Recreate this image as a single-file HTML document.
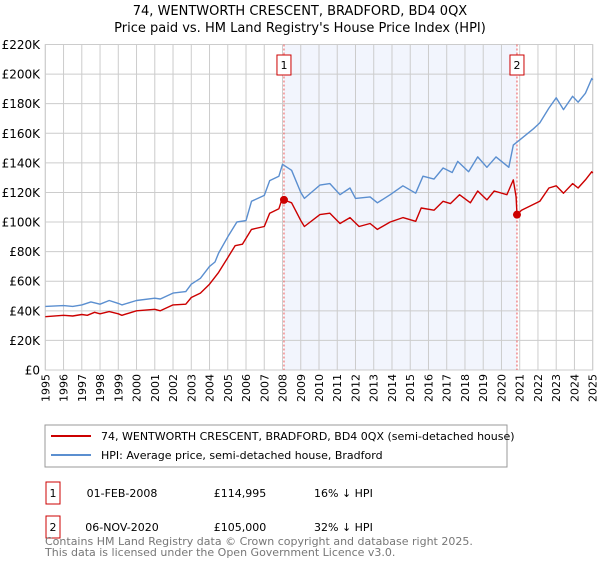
<!DOCTYPE html>
<html><head><meta charset="utf-8"><style>
body{margin:0;background:#fff;font-family:"Liberation Sans","DejaVu Sans",sans-serif;}
svg text{font-family:"DejaVu Sans","Liberation Sans",sans-serif;}
</style></head><body>
<svg id="chart" width="600" height="560" viewBox="0 0 600 560" xmlns="http://www.w3.org/2000/svg">
<text x="300" y="15" text-anchor="middle" font-size="13">74, WENTWORTH CRESCENT, BRADFORD, BD4 0QX</text>
<text x="300" y="32" text-anchor="middle" font-size="13">Price paid vs. HM Land Registry's House Price Index (HPI)</text>
<g id="plot"></g>
<rect x="45" y="425" width="462" height="42" fill="#fff" stroke="#999"/>
<line x1="51" y1="436" x2="91" y2="436" stroke="#cc0000" stroke-width="2"/>
<text x="101" y="440" font-size="11">74, WENTWORTH CRESCENT, BRADFORD, BD4 0QX (semi-detached house)</text>
<line x1="51" y1="455" x2="91" y2="455" stroke="#5b8fd0" stroke-width="2"/>
<text x="101" y="459" font-size="11">HPI: Average price, semi-detached house, Bradford</text>
<rect x="46" y="482" width="14" height="22" fill="#fff" stroke="#cc0000"/>
<text x="53" y="497" text-anchor="middle" font-size="11">1</text>
<text x="122" y="497" text-anchor="middle" font-size="11">01-FEB-2008</text>
<text x="240" y="497" text-anchor="middle" font-size="11">£114,995</text>
<text x="314" y="497" font-size="11">16% ↓ HPI</text>
<rect x="46" y="516" width="14" height="22" fill="#fff" stroke="#cc0000"/>
<text x="53" y="531" text-anchor="middle" font-size="11">2</text>
<text x="122" y="531" text-anchor="middle" font-size="11">06-NOV-2020</text>
<text x="240" y="531" text-anchor="middle" font-size="11">£105,000</text>
<text x="314" y="531" font-size="11">32% ↓ HPI</text>
<text x="45" y="545" font-size="11" fill="#777">Contains HM Land Registry data © Crown copyright and database right 2025.</text>
<text x="45" y="556" font-size="11" fill="#777">This data is licensed under the Open Government Licence v3.0.</text>
</svg>
<script>
const yTicks=[0,20,40,60,80,100,120,140,160,180,200,220];
const xTicks=[1995,1996,1997,1998,1999,2000,2001,2002,2003,2004,2005,2006,2007,2008,2009,2010,2011,2012,2013,2014,2015,2016,2017,2018,2019,2020,2021,2022,2023,2024,2025];
const hpiYears=[1995,1996,1996.5,1997,1997.5,1998,1998.5,1999,1999.2,2000,2001,2001.3,2002,2002.7,2003,2003.5,2004,2004.3,2004.5,2005,2005.5,2006,2006.3,2007,2007.3,2007.8,2008.0,2008.5,2009,2009.2,2010.05,2010.6,2011.15,2011.7,2012,2012.8,2013.2,2013.9,2014.6,2015.3,2015.7,2016.3,2016.8,2017.3,2017.6,2018.2,2018.7,2019.2,2019.7,2020.4,2020.65,2021.0,2021.75,2022.1,2022.6,2023.0,2023.4,2023.9,2024.2,2024.6,2024.95,2025];
const hpiValues=[43,43.5,43,44,46,44.5,47,45,44,47,48.5,48,52,53,58,62,70,73,79,90,100,101,114,118,128,131,139,135,120,116,125,126,118.5,123,116,117,113,118.5,124.5,119.5,131,129,136.5,133.5,141,134,144,137,144,137,152,155.5,163,167,177,184,176,185,181,187,197,196];
const priceYears=[1995,1996,1996.5,1997,1997.3,1997.7,1998,1998.5,1999,1999.2,2000,2001,2001.3,2002,2002.7,2003,2003.5,2004,2004.5,2005,2005.4,2005.8,2006.3,2007,2007.3,2007.8,2008.0,2008.08,2008.5,2009,2009.2,2010.05,2010.6,2011.15,2011.7,2012.2,2012.8,2013.2,2013.9,2014.6,2015.3,2015.6,2016.3,2016.8,2017.2,2017.7,2018.3,2018.7,2019.2,2019.6,2020.3,2020.65,2020.8,2020.85,2021.1,2022.1,2022.6,2023.0,2023.4,2023.9,2024.2,2024.6,2024.95,2025];
const priceValues=[36,37,36.5,37.5,37,39,38,39.5,38,37,40,41,40,44,44.5,49,52,58,66,76,84,85,95,97,106,109,116.5,115,113,101,97,105,106,99,103,97,99,95,100,103,100.5,109.5,108,114,112.5,118.5,113,121,115,121,118.5,128.5,117,105,108,114,123,124.5,119.5,126,123,128.5,134,133];
const saleYears=[2008.08,2020.85];
const saleValues=[114.995,105];
const saleLabels=["1","2"];
const NS="http://www.w3.org/2000/svg";
const X0=45.3,X1=592.7,Y0=370,Y1=44.5;
const xs=y=>X0+(y-1995)/30*(X1-X0);
const ys=v=>Y0-v/220*(Y0-Y1);
const plot=document.getElementById('plot');
function mk(tag,attrs){const e=document.createElementNS(NS,tag);for(const k in attrs)e.setAttribute(k,attrs[k]);plot.appendChild(e);return e;}
const shade=mk('rect',{x:xs(saleYears[0]),y:Y1,width:xs(saleYears[1])-xs(saleYears[0]),height:Y0-Y1,fill:'#f2f5fd'});


yTicks.forEach(t=>{
 const l=mk('line',{x1:X0,x2:X1,y1:ys(t),y2:ys(t),stroke:'#cccccc','stroke-width':1});
 
 
 const tx=mk('text',{x:40,y:ys(t)+4.5,'text-anchor':'end','font-size':12});
 tx.textContent=t===0?'£0':'£'+t+'K';
 
 
});
xTicks.forEach(t=>{
 const l=mk('line',{x1:xs(t),x2:xs(t),y1:Y1,y2:Y0,stroke:'#cccccc','stroke-width':1});
 
 
 const tx=mk('text',{x:0,y:0,'text-anchor':'end','font-size':11,transform:`translate(${xs(t)+4},${Y0+4}) rotate(-90)`});
 tx.textContent=t;
 
 
});
const border=mk('rect',{x:X0,y:Y1,width:X1-X0,height:Y0-Y1,fill:'none',stroke:'#cccccc'});


saleYears.forEach((sy,i)=>{
 const l=mk('line',{x1:xs(sy),x2:xs(sy),y1:Y1,y2:Y0,stroke:'#ee5555','stroke-width':1,'stroke-dasharray':'2,2'});
 
 
 const b=mk('rect',{x:xs(sy)-7,y:55,width:14,height:20,fill:'#fff',stroke:'#cc0000'});
 
 
 const t=mk('text',{x:xs(sy),y:69,'text-anchor':'middle','font-size':11});
 t.textContent=saleLabels[i];
 
 
});
function path(yrs,vals,color,name){
 const d=yrs.map((y,i)=>(i?'L':'M')+xs(y).toFixed(1)+','+ys(vals[i]).toFixed(1)).join('');
 const p=mk('path',{d:d,fill:'none',stroke:color,'stroke-width':1.4,'stroke-linejoin':'round'});
 
 
}
path(hpiYears,hpiValues,'#5b8fd0','hpi-line');
path(priceYears,priceValues,'#cc0000','price-line');
saleYears.forEach((sy,i)=>{
 const c=mk('circle',{cx:xs(sy),cy:ys(saleValues[i]),r:4,fill:'#cc0000'});
 
 
});
</script>
</body></html>
